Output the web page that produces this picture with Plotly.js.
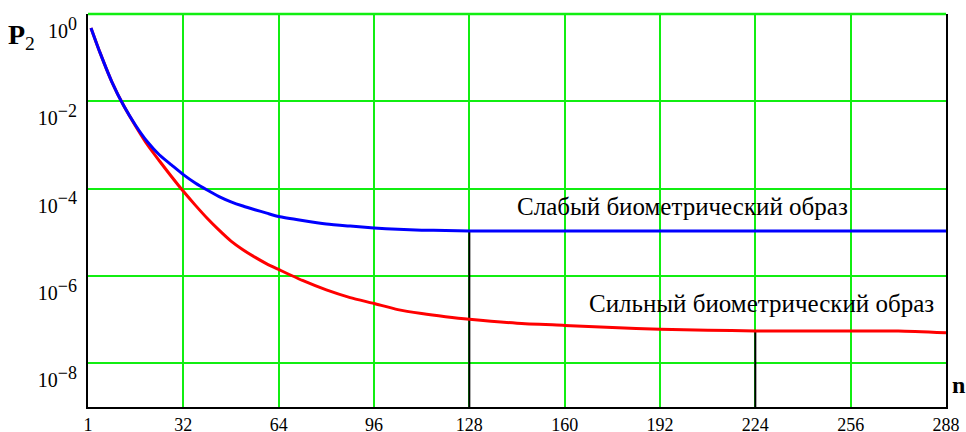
<!DOCTYPE html>
<html>
<head>
<meta charset="utf-8">
<script src="https://cdn.plot.ly/plotly-3.0.1.min.js"></script>
<style>
  html, body { margin: 0; padding: 0; background: #ffffff; }
  #chart { width: 966px; height: 432px; }
</style>
</head>
<body>
<div id="chart"></div>
<script>
// ---- data ----
const n = [1, 4, 8, 12, 16, 20, 24, 28, 32, 36, 40, 44, 48, 52, 56, 60, 64, 72, 80, 88, 96, 104, 112, 120, 128,
           144, 160, 176, 192, 208, 224, 240, 256, 272, 288];

const weakP = [4.8e-1, 1.32e-1, 2.8e-2, 7.9e-3, 2.8e-3, 1.17e-3, 5.9e-4, 3.5e-4, 2.1e-4, 1.35e-4,
               9.3e-5, 6.6e-5, 5.0e-5, 4.0e-5, 3.3e-5, 2.75e-5, 2.3e-5, 1.86e-5, 1.55e-5, 1.39e-5,
               1.26e-5, 1.17e-5, 1.12e-5, 1.10e-5, 1.07e-5,
               1.07e-5, 1.07e-5, 1.07e-5, 1.07e-5, 1.07e-5, 1.07e-5, 1.07e-5, 1.07e-5, 1.07e-5, 1.07e-5];

const strongP = [4.8e-1, 1.32e-1, 2.8e-2, 7.9e-3, 2.7e-3, 1.0e-3, 4.3e-4, 1.9e-4, 8.7e-5, 4.2e-5,
                 2.1e-5, 1.12e-5, 6.3e-6, 4.0e-6, 2.7e-6, 1.9e-6, 1.41e-6, 7.9e-7, 4.8e-7, 3.2e-7,
                 2.35e-7, 1.7e-7, 1.38e-7, 1.17e-7, 1.02e-7,
                 8.3e-8, 7.4e-8, 6.6e-8, 6.0e-8, 5.75e-8, 5.5e-8, 5.5e-8, 5.5e-8, 5.5e-8, 5.0e-8];

const weakLabel = "Слабый биометрический образ";
const strongLabel = "Сильный биометрический образ";

const xTickVals = [0, 32, 64, 96, 128, 160, 192, 224, 256, 288];
const xTickText = ["1", "32", "64", "96", "128", "160", "192", "224", "256", "288"];

const yTickVals = [1, 1e-2, 1e-4, 1e-6, 1e-8];
const yTickExp = ["0", "−2", "−4", "−6", "−8"];

const yBottom = 1e-9;
const weakMarkN = 128;
const strongMarkN = 224;
// ---------------------------------------

const weakMarkVal = weakP[n.indexOf(weakMarkN)];
const strongMarkVal = strongP[n.indexOf(strongMarkN)];
const yTickText = yTickExp.map(e => "10<sup><span style=\"font-size:18px\">" + e + "</span></sup>");

const FONT = "Liberation Serif, Times New Roman, serif";
const GREEN = "#11ee11";

const traces = [
  { x: [weakMarkN, weakMarkN], y: [yBottom, weakMarkVal], mode: "lines",
    line: { color: "#000000", width: 2 }, hoverinfo: "skip", showlegend: false },
  { x: [strongMarkN, strongMarkN], y: [yBottom, strongMarkVal], mode: "lines",
    line: { color: "#000000", width: 2 }, hoverinfo: "skip", showlegend: false },
  { x: n, y: strongP, mode: "lines", name: strongLabel,
    line: { color: "#ff0000", width: 3, shape: "spline", smoothing: 0.6 }, showlegend: false },
  { x: n, y: weakP, mode: "lines", name: weakLabel,
    line: { color: "#0000ff", width: 3, shape: "spline", smoothing: 0.6 }, showlegend: false }
];

const layout = {
  width: 966, height: 432,
  margin: { l: 88, r: 20, t: 14, b: 25 },
  paper_bgcolor: "#ffffff", plot_bgcolor: "#ffffff",
  font: { family: FONT, color: "#000000", size: 18 },
  showlegend: false,
  xaxis: {
    range: [0, 288],
    tickmode: "array", tickvals: xTickVals, ticktext: xTickText,
    showgrid: true, gridcolor: GREEN, gridwidth: 2,
    zeroline: false,
    showline: true, linecolor: "#000000", linewidth: 2, mirror: false,
    ticks: "", ticklabelstandoff: 0, ticklabeloverflow: "allow",
    tickfont: { family: FONT, size: 18, color: "#000000" }
  },
  yaxis: {
    type: "log", range: [-9, 0],
    tickmode: "array", tickvals: yTickVals, ticktext: yTickText,
    showgrid: true, gridcolor: GREEN, gridwidth: 2,
    zeroline: false,
    showline: true, linecolor: "#000000", linewidth: 2, mirror: true,
    ticks: "", ticklabelstandoff: 5, ticklabelshift: 17, ticklabeloverflow: "allow",
    tickfont: { family: FONT, size: 20, color: "#000000" }
  },
  shapes: [
    { type: "line", xref: "paper", yref: "paper", x0: 0, x1: 1, y0: 1, y1: 1,
      line: { color: GREEN, width: 2.5 } }
  ],
  annotations: [
    { xref: "x", yref: "y", x: 199.7, y: -4.41, text: weakLabel, showarrow: false,
      font: { family: FONT, size: 25, color: "#000000" }, xanchor: "center", yanchor: "middle" },
    { xref: "x", yref: "y", x: 226, y: -6.62, text: strongLabel, showarrow: false,
      font: { family: FONT, size: 25, color: "#000000" }, xanchor: "center", yanchor: "middle" },
    { xref: "paper", yref: "paper", x: -0.077, y: 0.944, text: "<b>P</b><sub>2</sub>", showarrow: false,
      font: { family: FONT, size: 28, color: "#000000" }, xanchor: "center", yanchor: "middle" },
    { xref: "paper", yref: "paper", x: 1.0145, y: 0.056, text: "<b>n</b>", showarrow: false,
      font: { family: FONT, size: 24, color: "#000000" }, xanchor: "center", yanchor: "middle" }
  ]
};

Plotly.newPlot("chart", traces, layout, { staticPlot: true, displayModeBar: false });
</script>
</body>
</html>
